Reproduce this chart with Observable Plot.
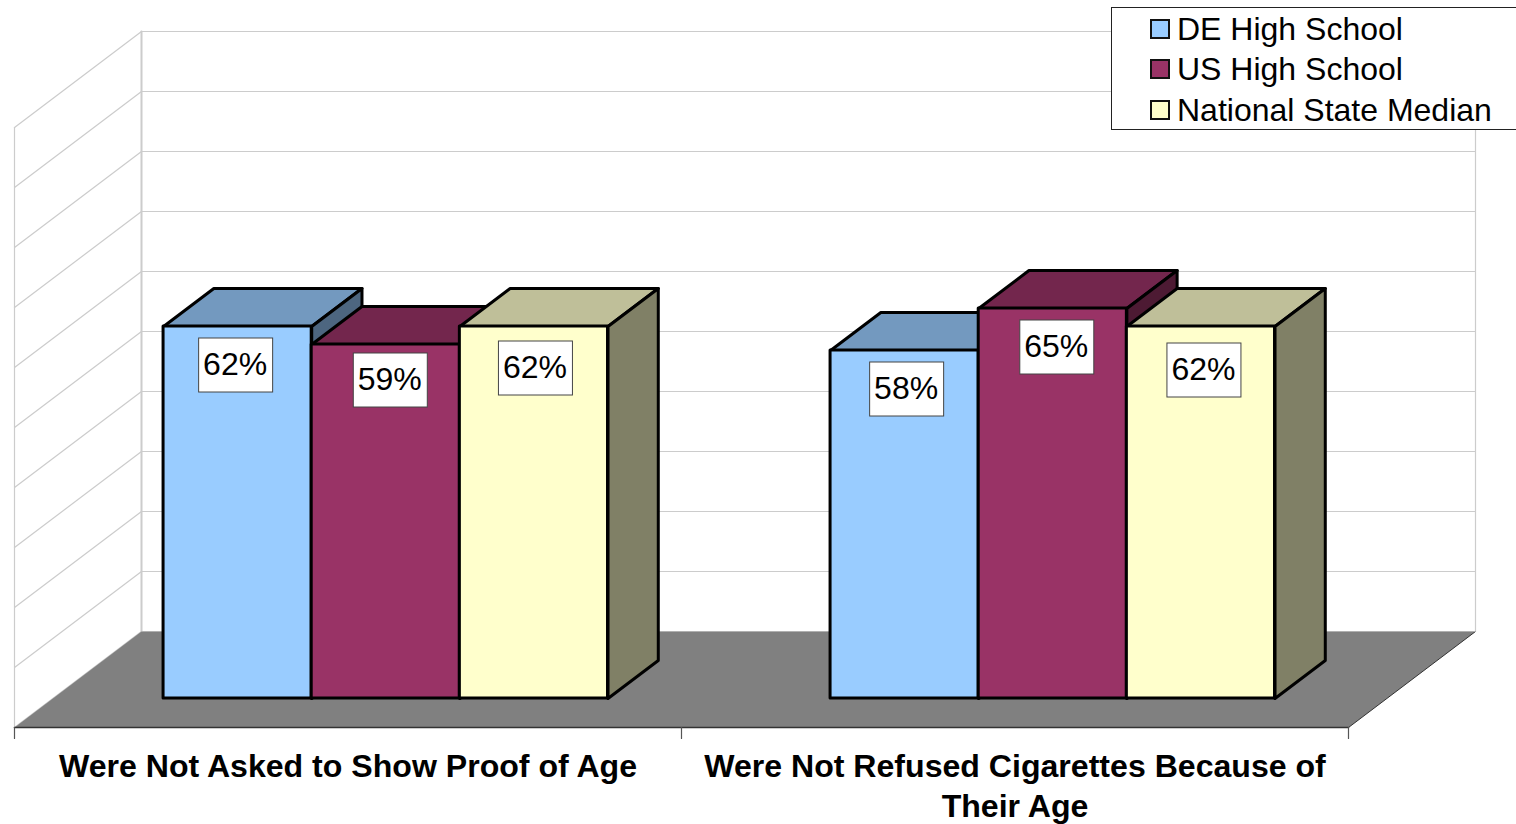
<!DOCTYPE html>
<html>
<head>
<meta charset="utf-8">
<script src="https://cdn.jsdelivr.net/npm/d3@7"></script>
<script src="https://cdn.jsdelivr.net/npm/@observablehq/plot@0.6"></script>
<style>
html,body{margin:0;padding:0;background:#fff;overflow:hidden}
#wrap{position:relative;width:1516px;height:824px;overflow:hidden}
#wrap svg{display:block;position:absolute;left:0;top:0}
#legend{position:absolute;left:1111px;top:7px;width:405px;height:123px;box-sizing:border-box;background:#fff;border:1px solid #222;border-right:0;font:32px "Liberation Sans",Arial,sans-serif;color:#000}
.row{position:absolute;left:38px;height:40px;white-space:nowrap;display:flex;align-items:center}
.sw{width:16px;height:16px;border:2.5px solid #111;box-sizing:content-box;margin-right:7px;flex:none}
</style>
</head>
<body>
<div id="wrap"></div>
<script>
const categories = ["Were Not Asked to Show Proof of Age", "Were Not Refused Cigarettes Because of\nTheir Age"];
const seriesNames = ["DE High School", "US High School", "National State Median"];
const deValues = [62, 58];
const usValues = [59, 65];
const medianValues = [62, 62];
const gridValues = [0, 10, 20, 30, 40, 50, 60, 70, 80, 90, 100];

// colours per series: front, top, side
const fronts = ["#99ccff", "#993366", "#ffffcc"];
const tops = ["#7399bf", "#73264d", "#bfbf99"];
const sides = ["#4d6680", "#4d1a33", "#808066"];

// layout of the 3D box, in data units (1 x unit = one category, 1 y unit = one percent)
const W = 1516, H = 824;
const pxX = 667, pxY = 6;
const originX = 14, originY = 727;
const shiftX = 127 / pxX, shiftY = 16;      // full depth of the box
const barFront = 29 / 96, barBack = 67 / 96; // depth of the bars in the box
const gap = 110.7 / pxX, barW = 148.15 / pxX;
const project = (c, v, d) => ({x: c + d * shiftX, y: v + d * shiftY});
const poly = (pts, o) => Plot.line(pts, {x: "x", y: "y", curve: "linear-closed", ...o});
const seg = (a, b, o) => Plot.line([a, b], {x: "x", y: "y", ...o});

const marks = [];
const gridColor = "#cccccc";

// walls and gridlines
for (const v of gridValues) {
  marks.push(seg(project(0, v, 1), project(2, v, 1), {stroke: gridColor, strokeWidth: 1.2}));
  marks.push(seg(project(0, v, 0), project(0, v, 1), {stroke: gridColor, strokeWidth: 1.2}));
}
marks.push(seg(project(0, 0, 1), project(0, 100, 1), {stroke: gridColor, strokeWidth: 2}));
marks.push(seg(project(2, 0, 1), project(2, 100, 1), {stroke: gridColor, strokeWidth: 1.2}));
marks.push(seg(project(0, 0, 0), project(0, 100, 0), {stroke: gridColor, strokeWidth: 1.2}));

// floor
marks.push(poly([project(0, 0, 0), project(2, 0, 0), project(2, 0, 1), project(0, 0, 1)], {fill: "#808080", stroke: "none"}));
marks.push(seg(project(0, 0, 0), project(2, 0, 0), {stroke: "#333", strokeWidth: 1.5}));
marks.push(seg(project(2, 0, 0), project(2, 0, 1), {stroke: "#333", strokeWidth: 1}));
marks.push(seg(project(0, 0, 1), project(2, 0, 1), {stroke: "#b0b0b0", strokeWidth: 1.2}));

// axis ticks
for (const c of [0, 1, 2]) {
  marks.push(seg({x: c, y: 0}, {x: c, y: -11 / pxY}, {stroke: "#555", strokeWidth: 1.2}));
}

// bars, back-to-front painter order within each group
const seriesValues = [deValues, usValues, medianValues];
const bar = {stroke: "#000", strokeWidth: 3, strokeLinejoin: "round"};
categories.forEach((_, c) => {
  seriesValues.forEach((values, s) => {
    const v = values[c];
    const x0 = c + gap + s * barW, x1 = x0 + barW;
    marks.push(poly([project(x0, v, barFront), project(x1, v, barFront), project(x1, v, barBack), project(x0, v, barBack)], {fill: tops[s], ...bar}));
    marks.push(poly([project(x1, 0, barFront), project(x1, v, barFront), project(x1, v, barBack), project(x1, 0, barBack)], {fill: sides[s], ...bar}));
    const a = project(x0, 0, barFront), b = project(x1, v, barFront);
    marks.push(Plot.rect([{x1: a.x, x2: b.x, y1: a.y, y2: b.y}], {x1: "x1", x2: "x2", y1: "y1", y2: "y2", fill: fronts[s], ...bar}));
  });
});

// data labels: pixel nudges of each label from its bar's front top centre
const nudges = [[[-1.5, 39], [5, 36], [2, 42]], [[2.5, 39], [4.5, 39], [3.5, 44]]];
const boxHalfW = 37, boxHalfH = 27;
categories.forEach((_, c) => {
  seriesValues.forEach((values, s) => {
    const v = values[c];
    const x0 = c + gap + s * barW;
    const top = project(x0 + barW / 2, v, barFront);
    const cx = top.x + nudges[c][s][0] / pxX, cy = top.y - nudges[c][s][1] / pxY;
    marks.push(Plot.rect([{x1: cx - boxHalfW / pxX, x2: cx + boxHalfW / pxX, y1: cy - boxHalfH / pxY, y2: cy + boxHalfH / pxY}],
      {x1: "x1", x2: "x2", y1: "y1", y2: "y2", fill: "#fff", stroke: "#444", strokeWidth: 1}));
    marks.push(Plot.text([{x: cx, y: cy, t: v + "%"}],
      {x: "x", y: "y", text: "t", fill: "#000", fontSize: 32, fontFamily: "Liberation Sans, Arial, sans-serif", textAnchor: "middle", dx: -1, dy: -0.5}));
  });
});

// category labels
marks.push(Plot.text(categories.map((t, c) => ({x: c + 0.5, t})), {
  x: "x", y: () => -20.5 / pxY, text: "t", fill: "#000", fontSize: 32.1, fontWeight: "bold",
  fontFamily: "Liberation Sans, Arial, sans-serif", textAnchor: "middle", lineAnchor: "top", lineHeight: 1.25
}));

const chart = Plot.plot({
  width: W, height: H,
  marginTop: 0, marginRight: 0, marginBottom: 0, marginLeft: 0,
  x: {type: "linear", domain: [-originX / pxX, (W - originX) / pxX], range: [0, W], axis: null},
  y: {type: "linear", domain: [(originY - H) / pxY, originY / pxY], range: [H, 0], axis: null},
  style: {background: "transparent", overflow: "hidden"},
  marks
});
const wrap = document.getElementById("wrap");
wrap.appendChild(chart);

// legend
const legend = document.createElement("div");
legend.id = "legend";
seriesNames.forEach((name, i) => {
  const row = document.createElement("div");
  row.className = "row";
  row.style.top = [1, 41, 82][i] + "px";
  const sw = document.createElement("span");
  sw.className = "sw";
  sw.style.background = fronts[i];
  row.appendChild(sw);
  row.appendChild(document.createTextNode(name));
  legend.appendChild(row);
});
wrap.appendChild(legend);
</script>
</body>
</html>
